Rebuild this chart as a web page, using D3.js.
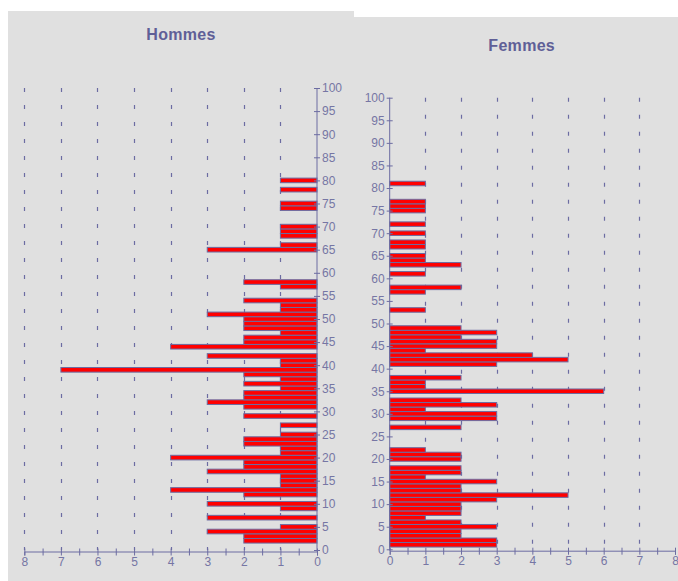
<!DOCTYPE html>
<html>
<head>
<meta charset="utf-8">
<script src="https://cdn.jsdelivr.net/npm/d3@7"></script>
<style>
    body { margin: 0; background: #fff; }
    svg { display: block; font-family: "Liberation Sans", Arial, sans-serif; }
</style>
</head>
<body>
<div id="chart"></div>
<script>
// ages (one bar per year) and head counts
const hommesAges   = [2, 3, 4, 5, 7, 9, 10, 12, 13, 14, 15, 16, 17, 18, 19, 20, 21, 22, 23, 24, 25, 27, 29, 31, 32, 33, 34, 35, 36, 37, 38, 39, 40, 41, 42, 44, 45, 46, 47, 48, 49, 50, 51, 52, 53, 54, 57, 58, 65, 66, 68, 69, 70, 74, 75, 78, 80];
const hommesCounts = [2, 2, 3, 1, 3, 1, 3, 2, 4, 1, 1, 1, 3, 2, 2, 4, 1, 1, 2, 2, 1, 1, 2, 2, 3, 2, 2, 1, 2, 1, 2, 7, 1, 1, 3, 4, 2, 2, 1, 2, 2, 2, 3, 1, 1, 2, 1, 2, 3, 1, 1, 1, 1, 1, 1, 1, 1];

const femmesAges   = [1, 2, 3, 4, 5, 6, 7, 8, 9, 10, 11, 12, 13, 14, 15, 16, 17, 18, 20, 21, 22, 27, 29, 30, 31, 32, 33, 35, 36, 37, 38, 41, 42, 43, 44, 45, 46, 47, 48, 49, 53, 57, 58, 61, 63, 64, 65, 67, 68, 70, 72, 75, 76, 77, 81];
const femmesCounts = [3, 3, 2, 2, 3, 2, 1, 2, 2, 2, 3, 5, 2, 2, 3, 1, 2, 2, 2, 2, 1, 2, 3, 3, 1, 3, 2, 6, 1, 1, 2, 3, 5, 4, 1, 3, 3, 2, 3, 2, 1, 1, 2, 1, 2, 1, 1, 1, 1, 1, 1, 1, 1, 1, 1];

const countTicks = [0, 1, 2, 3, 4, 5, 6, 7, 8];
const ageTicks = [0, 5, 10, 15, 20, 25, 30, 35, 40, 45, 50, 55, 60, 65, 70, 75, 80, 85, 90, 95, 100];

const COLORS = {
    panel: '#e0e0e0',
    bar: '#ff0000',
    barStroke: '#6c6ca2',
    axis: '#6c6ca2',
    label: '#7676a4',
    title: '#5f5f97'
};

class PyramidPanel {
    constructor(svg, title, ages, counts, layout) {
        this.svg = svg;
        this.title = title;
        this.data = ages.map((a, i) => ({age: a, count: counts[i]}));
        this.layout = layout;
    }

    render() {
        const L = this.layout;
        const g = this.svg.append('g');

        g.append('rect')
            .attr('x', L.panel[0]).attr('y', L.panel[1])
            .attr('width', L.panel[2]).attr('height', L.panel[3])
            .attr('fill', COLORS.panel);

        const x = d3.scaleLinear().domain([0, 8]).range(L.xRange);
        const y = d3.scaleLinear().domain([0, 100]).range(L.yRange);

        // dashed grid lines
        g.selectAll('.grid')
            .data(L.gridTicks)
            .enter().append('line')
            .attr('class', 'grid')
            .attr('x1', d => Math.round(x(d)) + 0.5)
            .attr('x2', d => Math.round(x(d)) + 0.5)
            .attr('y1', y(100))
            .attr('y2', y(0))
            .attr('stroke', COLORS.axis)
            .attr('stroke-width', 1.2)
            .attr('stroke-dasharray', '4,13');

        // bars
        g.selectAll('.bar')
            .data(this.data)
            .enter().append('rect')
            .attr('class', 'bar')
            .attr('x', d => Math.min(x(d.count), x(0)))
            .attr('width', d => Math.abs(x(d.count) - x(0)))
            .attr('y', d => y(d.age + 0.5))
            .attr('height', d => y(d.age - 0.5) - y(d.age + 0.5))
            .attr('fill', COLORS.bar)
            .attr('stroke', COLORS.barStroke)
            .attr('stroke-width', 1);

        // count axis, ticks every half unit
        const halfTicks = d3.range(0, 8.01, 0.5);
        const xAxis = g.append('g')
            .attr('transform', `translate(0,${L.xAxisY})`)
            .call(d3.axisBottom(x)
                .tickValues(halfTicks)
                .tickFormat(d => countTicks.includes(d) ? d : '')
                .tickSizeOuter(0)
                .tickSize(4)
                .tickPadding(2));
        xAxis.selectAll('.tick line').attr('y1', -3).attr('y2', 4);

        // age axis
        const axisFn = L.side === 'right' ? d3.axisRight : d3.axisLeft;
        const yAxis = g.append('g')
            .attr('transform', `translate(${L.yAxisX},0)`)
            .call(axisFn(y)
                .tickValues(ageTicks)
                .tickSizeOuter(0)
                .tickSize(3)
                .tickPadding(2));
        yAxis.selectAll('.tick line').attr('x1', -3).attr('x2', 3);
        yAxis.select('.domain').attr('d', `M0,${y(100)}V${L.xAxisY}`);

        [xAxis, yAxis].forEach(ax => {
            ax.select('.domain').attr('stroke', COLORS.axis);
            ax.selectAll('.tick line').attr('stroke', COLORS.axis);
            ax.selectAll('.tick text')
                .attr('fill', COLORS.label)
                .style('font-size', '12px')
                .style('font-family', '"Liberation Sans", Arial, sans-serif');
        });

        g.append('text')
            .attr('x', L.titlePos[0])
            .attr('y', L.titlePos[1])
            .attr('text-anchor', 'middle')
            .attr('fill', COLORS.title)
            .style('font-size', '16px')
            .style('font-weight', 'bold')
            .style('letter-spacing', '0.3px')
            .text(this.title);
    }
}

const svg = d3.select('#chart').append('svg')
    .attr('width', 678)
    .attr('height', 581);

new PyramidPanel(svg, 'Hommes', hommesAges, hommesCounts, {
    panel: [8, 11, 346, 570],
    xRange: [317, 24.3],
    yRange: [550, 88],
    xAxisY: 551.5,
    yAxisX: 317,
    side: 'right',
    gridTicks: [1, 2, 3, 4, 5, 6, 7, 8],
    titlePos: [181, 40]
}).render();

new PyramidPanel(svg, 'Femmes', femmesAges, femmesCounts, {
    panel: [354, 17, 324, 564],
    xRange: [389.7, 675],
    yRange: [549.3, 97.7],
    xAxisY: 550.7,
    yAxisX: 389.7,
    side: 'left',
    gridTicks: [1, 2, 3, 4, 5, 6, 7],
    titlePos: [521.7, 50.7]
}).render();
</script>
</body>
</html>
